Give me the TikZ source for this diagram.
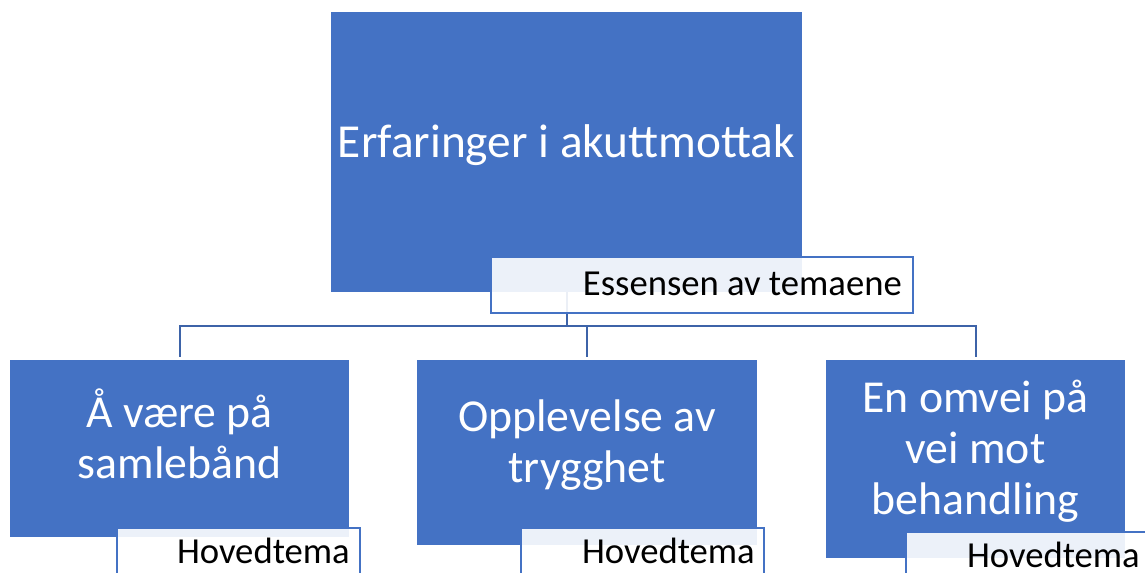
\documentclass[tikz,border=0pt]{standalone}
\usepackage{fontspec}
\setmainfont{Carlito}
\usetikzlibrary{fit}
\definecolor{boxblue}{HTML}{4472C4}
\definecolor{connblue}{HTML}{3D63A8}
\newcommand\topstrut{\rule[-24.75pt]{0pt}{58.5pt}}
\newcommand\botstrut{\rule[-27pt]{0pt}{60.75pt}}
\begin{document}
\begin{tikzpicture}[x=0.75pt,y=-0.75pt,
  box/.style={fill=boxblue, draw=none, inner sep=0pt},
  boxtext/.style={text=white, align=center, inner sep=0pt, anchor=center},
  topfont/.style={font={\fontsize{35.5}{40}\selectfont}},
  botfont/.style={font={\fontsize{34.3}{38.25}\selectfont\lineskiplimit=-100pt}},
  labelbox/.style={fill=white, fill opacity=0.9, draw=boxblue, line width=1.1pt, inner sep=0pt},
  lbltext/.style={font={\fontsize{27.5}{33}\selectfont}, text=black, anchor=base east, inner sep=0pt},
  conn/.style={draw=connblue, line width=1.5pt}]
\useasboundingbox (0,0) rectangle (1145,573);
\clip (0,0) rectangle (1145,573);
% main boxes
\node[box, fit={(331,12)(802,292)}] (top) {};
\node[boxtext, topfont] (toptext) at (top.center) {\topstrut Erfaringer i akuttmottak};
\node[box, fit={(10,360)(349,537)}] (b1) {};
\node[boxtext, botfont] (b1text) at (b1.center) {\botstrut Å være på\\\botstrut samlebånd};
\node[box, fit={(417,360)(757,545)}] (b2) {};
\node[boxtext, botfont] (b2text) at (b2.center) {\botstrut Opplevelse av\\\botstrut trygghet};
\node[box, fit={(826,360)(1125,558)}] (b3) {};
\node[boxtext, botfont] (b3text) at (b3.center) {\botstrut En omvei på\\\botstrut vei mot\\\botstrut behandling};
% connectors
\coordinate (j) at (566.5,326);
\draw[conn] (top.south) -- (j);
\draw[conn, shorten >=2.25pt] (j) -| (b1.north);
\draw[conn, shorten >=2.25pt] (j) -| (b2.north);
\draw[conn, shorten >=2.25pt] (j) -| (b3.north);
% label boxes
\node[labelbox, fit={(491,257)(913,313)}] (l0) {};
\node[lbltext] (t0) at (902,296) {Essensen av temaene};
\node[labelbox, fit={(117,528)(360,584)}] (l1) {};
\node[lbltext] (t1) at (350,563) {Hovedtema};
\node[labelbox, fit={(521,528)(764,584)}] (l2) {};
\node[lbltext] (t2) at (755,563) {Hovedtema};
\node[labelbox, fit={(906,532)(1149,588)}] (l3) {};
\node[lbltext] (t3) at (1140,567) {Hovedtema};
\end{tikzpicture}
\end{document}
